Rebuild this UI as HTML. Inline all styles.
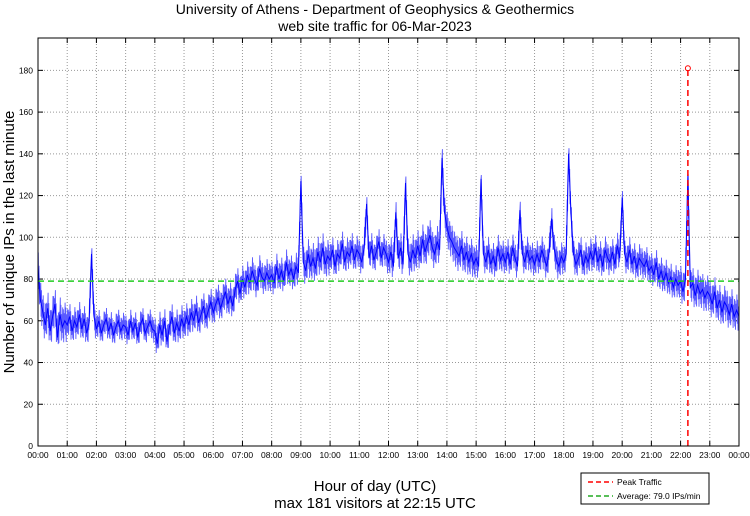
<!DOCTYPE html>
<html><head><meta charset="utf-8"><style>
body{margin:0;background:#fff;width:750px;height:511px;overflow:hidden;font-family:"Liberation Sans",sans-serif}
</style></head><body>
<svg id="chart" width="750" height="511" xmlns="http://www.w3.org/2000/svg" font-family="Liberation Sans, sans-serif">
<text x="375" y="14" text-anchor="middle" font-size="14">University of Athens - Department of Geophysics &amp; Geothermics</text>
<text x="375" y="31" text-anchor="middle" font-size="14">web site traffic for 06-Mar-2023</text>
<text transform="translate(14,242) rotate(-90)" text-anchor="middle" font-size="15">Number of unique IPs in the last minute</text>
<text x="375" y="491" text-anchor="middle" font-size="15">Hour of day (UTC)</text>
<text x="375" y="508" text-anchor="middle" font-size="15">max 181 visitors at 22:15 UTC</text>
<g id="grid"></g><g id="ticks"></g>
<g id="series"></g>
<rect x="38" y="38" width="701" height="408" fill="none" stroke="#000" stroke-width="1"/>
<g>
<rect x="581" y="473" width="128" height="31" fill="#fff" stroke="#000" stroke-width="1"/>
<line x1="588" y1="482" x2="613" y2="482" stroke="#f00" stroke-width="1.5" stroke-dasharray="5,3"/>
<text x="617" y="485" font-size="8.5">Peak Traffic</text>
<line x1="588" y1="496" x2="613" y2="496" stroke="#2a2" stroke-width="1.5" stroke-dasharray="5,3"/>
<text x="617" y="499" font-size="8.5">Average: 79.0 IPs/min</text>
</g>
</svg>
<script>
const hourLabels=["00:00","01:00","02:00","03:00","04:00","05:00","06:00","07:00","08:00","09:00","10:00","11:00","12:00","13:00","14:00","15:00","16:00","17:00","18:00","19:00","20:00","21:00","22:00","23:00","00:00"];
const yTicks=[0,20,40,60,80,100,120,140,160,180];
const visitors5min=[
86,70,64,58,66,55,62,68,52,63,57,60,
58,62,55,60,57,63,56,61,54,59,92,62,
56,60,54,58,61,55,59,53,57,60,55,58,
57,53,60,55,59,52,58,61,54,57,60,56,
55,49,58,53,60,50,57,62,54,59,55,61,
57,62,58,64,60,66,59,63,67,61,65,69,
64,68,71,66,70,74,68,72,67,75,79,73,
80,76,82,78,84,80,77,85,81,79,83,80,
82,78,86,80,84,79,88,82,85,80,86,83,
127,88,84,92,86,90,85,93,88,95,87,91,
89,94,86,92,90,97,88,93,91,96,89,94,
92,88,95,116,90,96,89,93,98,90,95,92,
88,93,86,112,90,95,87,126,92,88,94,90,
96,91,99,93,97,101,95,92,98,94,138,112,
105,100,98,95,93,91,96,89,93,88,92,87,
90,86,128,92,88,94,87,91,86,95,89,92,
88,93,87,95,90,86,113,92,88,94,89,91,
87,92,88,94,90,86,93,109,95,89,86,91,
88,92,140,110,92,87,90,94,86,91,88,93,
89,95,88,92,86,94,90,88,93,87,96,90,
119,92,88,94,87,91,85,90,88,86,89,84,
86,82,88,80,84,79,83,78,81,76,80,77,
79,74,80,130,76,78,72,77,73,75,71,74,
72,68,74,66,70,64,69,67,63,68,62,65,
62];
const hourlySpread=[9,7,6,6,7,7,7,7,7,8,7,7,8,8,8,7,7,7,7,7,7,7,8,8];
const peakValue=181;
const peakHour=22.25;
const averageValue=79.0;

const NS="http://www.w3.org/2000/svg";
const X0=38,X1=739,Y0=446,Y1=38,YMAX=195.5;
const xs=h=>X0+(X1-X0)*h/24;
const ys=v=>Y0-(Y0-Y1)*v/YMAX;
function mk(tag,attrs,parent){const e=document.createElementNS(NS,tag);for(const k in attrs)e.setAttribute(k,attrs[k]);parent.appendChild(e);return e;}
const grid=document.getElementById('grid'),ticks=document.getElementById('ticks'),series=document.getElementById('series');
hourLabels.forEach((l,i)=>{
 const x=xs(i);
 if(i>0&&i<24){const g=mk('line',{x1:x,x2:x,y1:Y1,y2:Y0,stroke:'#999','stroke-dasharray':'1,2'},grid);
 
 }
 mk('line',{x1:x,x2:x,y1:Y0,y2:Y0-5,stroke:'#000'},ticks);
 mk('line',{x1:x,x2:x,y1:Y1,y2:Y1+5,stroke:'#000'},ticks);
 const t=mk('text',{x:x,y:458,'text-anchor':'middle','font-size':'8.5'},ticks);t.textContent=l;
 
 
});
yTicks.forEach(v=>{
 const y=ys(v);
 if(v>0){const g=mk('line',{x1:X0,x2:X1,y1:y,y2:y,stroke:'#999','stroke-dasharray':'1,2'},grid);
 
 }
 mk('line',{x1:X0,x2:X0+5,y1:y,y2:y,stroke:'#000'},ticks);
 mk('line',{x1:X1,x2:X1-5,y1:y,y2:y,stroke:'#000'},ticks);
 const t=mk('text',{x:33,y:y+3,'text-anchor':'end','font-size':'8.5'},ticks);t.textContent=v;
 
 
});
const n=visitors5min.length-1;
// jitter band: sub-samples oscillating around each 5-min value with hourly spread
const pattern=[0,1,-0.7,0.8,-1,0.5,-0.4];
let band=[];
for(let i=0;i<n;i++){
 const s=hourlySpread[Math.min(23,Math.floor(24*i/n))];
 for(let k=0;k<pattern.length;k++){
  const f=k/pattern.length;
  const v=visitors5min[i]*(1-f)+visitors5min[i+1]*f+(k===0?0:pattern[k]*s);
  band.push(xs(24*(i+f)/n).toFixed(1)+','+ys(v).toFixed(1));
 }
}
band.push(xs(24).toFixed(1)+','+ys(visitors5min[n]).toFixed(1));
const bl=mk('polyline',{points:band.join(' '),fill:'none',stroke:'#5a5aff','stroke-width':'0.9'},series);


const pts=visitors5min.map((v,i)=>xs(24*i/n).toFixed(1)+','+ys(v).toFixed(1)).join(' ');
const pl=mk('polyline',{points:pts,fill:'none',stroke:'#0000ff','stroke-width':'1'},series);


const avg=mk('line',{x1:X0,x2:X1,y1:ys(averageValue),y2:ys(averageValue),stroke:'#2c2','stroke-width':'1.5','stroke-dasharray':'6,4'},series);


const pk=mk('line',{x1:xs(peakHour),x2:xs(peakHour),y1:ys(0),y2:ys(peakValue),stroke:'#f00','stroke-width':'1.5','stroke-dasharray':'6,4'},series);


const pm=mk('circle',{cx:xs(peakHour),cy:ys(peakValue),r:2.5,fill:'none',stroke:'#f00','stroke-width':'1'},series);


</script>
</body></html>
